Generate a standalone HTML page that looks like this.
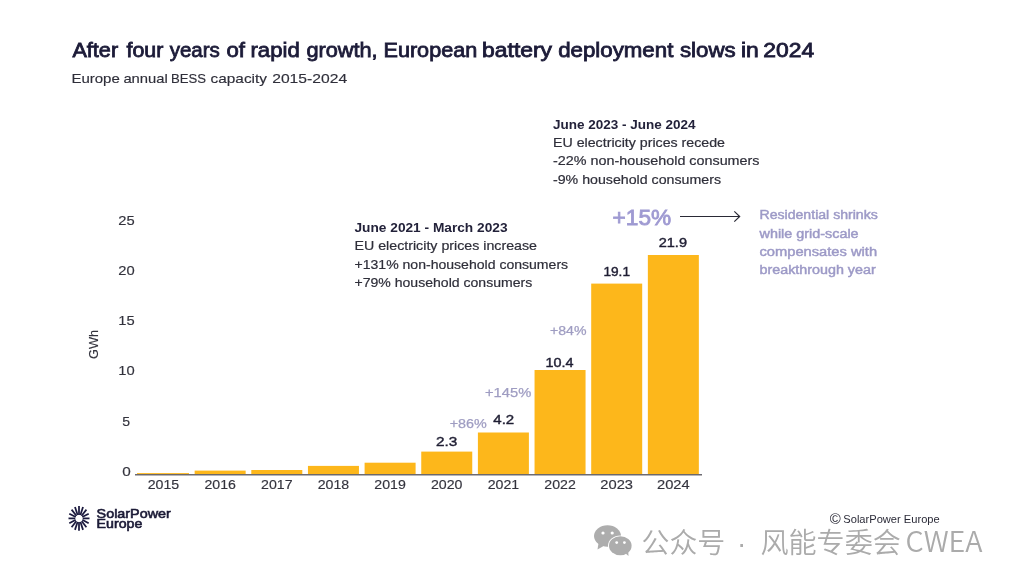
<!DOCTYPE html>
<html lang="en">
<head>
<meta charset="utf-8">
<title>European battery deployment slows in 2024</title>
<style>
  html, body { margin: 0; padding: 0; background: #ffffff; }
  body { width: 1015px; height: 583px; overflow: hidden; }
  svg { display: block; will-change: transform; }
  text { font-family: "Liberation Sans", "Noto Sans CJK SC", sans-serif; }
  .t  { fill: #1c1b38; stroke: #1c1b38; stroke-width: 0.8px; }
  .st { fill: #2f2f3a; stroke: #2f2f3a; stroke-width: 0.15px; }
  .ah { fill: #23223a; font-weight: 700; }
  .ab { fill: #2f2f3a; stroke: #2f2f3a; stroke-width: 0.2px; }
  .ax { fill: #33333d; stroke: #33333d; stroke-width: 0.15px; }
  .vl { fill: #1f1e33; stroke: #1f1e33; stroke-width: 0.4px; }
  .gr { fill: #9f9dc2; stroke: #9f9dc2; stroke-width: 0.25px; }
  .lv { fill: #9d9ac7; font-weight: 700; }
  .lvm { fill: #9d9ac7; stroke: #9d9ac7; stroke-width: 0.45px; }
  .bar { fill: #fdb71b; }
</style>
</head>
<body>
<svg width="1015" height="583" viewBox="0 0 1015 583">
  <rect width="1015" height="583" fill="#ffffff"/>

  <!-- Title -->
  <text class="t" y="57" font-size="20"><tspan x="72.4" textLength="45.71" lengthAdjust="spacingAndGlyphs">After</tspan> <tspan x="126.5" textLength="36.83" lengthAdjust="spacingAndGlyphs">four</tspan> <tspan x="169.7" textLength="50.13" lengthAdjust="spacingAndGlyphs">years</tspan> <tspan x="226.4" textLength="18.48" lengthAdjust="spacingAndGlyphs">of</tspan> <tspan x="250.5" textLength="49.24" lengthAdjust="spacingAndGlyphs">rapid</tspan> <tspan x="306.4" textLength="71.25" lengthAdjust="spacingAndGlyphs">growth,</tspan> <tspan x="383.5" textLength="93.69" lengthAdjust="spacingAndGlyphs">European</tspan> <tspan x="482.1" textLength="69.98" lengthAdjust="spacingAndGlyphs">battery</tspan> <tspan x="558.2" textLength="115.14" lengthAdjust="spacingAndGlyphs">deployment</tspan> <tspan x="680.0" textLength="55.62" lengthAdjust="spacingAndGlyphs">slows</tspan> <tspan x="741.0" textLength="17.84" lengthAdjust="spacingAndGlyphs">in</tspan> <tspan x="763.3" textLength="50.83" lengthAdjust="spacingAndGlyphs">2024</tspan></text>
  <text class="st" y="83" font-size="13.3"><tspan x="71.4" textLength="48.42" lengthAdjust="spacingAndGlyphs">Europe</tspan> <tspan x="123.4" textLength="44.45" lengthAdjust="spacingAndGlyphs">annual</tspan> <tspan x="170.9" textLength="35.07" lengthAdjust="spacingAndGlyphs">BESS</tspan> <tspan x="210.6" textLength="56.35" lengthAdjust="spacingAndGlyphs">capacity</tspan> <tspan x="272.2" textLength="74.92" lengthAdjust="spacingAndGlyphs">2015-2024</tspan></text>

  <!-- Annotation 2023-2024 -->
  <text class="ah" x="553" y="128.5" font-size="12.2" textLength="142.5" lengthAdjust="spacingAndGlyphs">June 2023 - June 2024</text>
  <text class="ab" x="553" y="147" font-size="12.7" textLength="172" lengthAdjust="spacingAndGlyphs">EU electricity prices recede</text>
  <text class="ab" x="553" y="165.3" font-size="12.7" textLength="206.5" lengthAdjust="spacingAndGlyphs">-22% non-household consumers</text>
  <text class="ab" x="553" y="183.5" font-size="12.7" textLength="168" lengthAdjust="spacingAndGlyphs">-9% household consumers</text>

  <!-- Annotation 2021-2023 -->
  <text class="ah" x="354.5" y="232" font-size="12.2" textLength="153" lengthAdjust="spacingAndGlyphs">June 2021 - March 2023</text>
  <text class="ab" x="354.5" y="250.4" font-size="12.7" textLength="182.5" lengthAdjust="spacingAndGlyphs">EU electricity prices increase</text>
  <text class="ab" x="354.5" y="268.8" font-size="12.7" textLength="213.6" lengthAdjust="spacingAndGlyphs">+131% non-household consumers</text>
  <text class="ab" x="354.5" y="287" font-size="12.7" textLength="177.7" lengthAdjust="spacingAndGlyphs">+79% household consumers</text>

  <!-- +15% and arrow -->
  <text class="lvm" x="612.6" y="225.2" font-size="21.8" style="stroke-width:0.8px;fill:#9f9ad2;stroke:#9f9ad2" textLength="58.6" lengthAdjust="spacingAndGlyphs">+15%</text>
  <line x1="680" y1="216.5" x2="739.6" y2="216.5" stroke="#2a2a36" stroke-width="1.15"/>
  <polyline points="734.3,211.4 739.7,216.5 734.3,221.6" fill="none" stroke="#2a2a36" stroke-width="1.15"/>

  <!-- Residential text -->
  <text class="lvm" x="759.5" y="219.2" font-size="12.5" textLength="118.3" lengthAdjust="spacingAndGlyphs">Residential shrinks</text>
  <text class="lvm" x="759.5" y="237.5" font-size="12.5" textLength="99.1" lengthAdjust="spacingAndGlyphs">while grid-scale</text>
  <text class="lvm" x="759.5" y="255.8" font-size="12.5" textLength="117.6" lengthAdjust="spacingAndGlyphs">compensates with</text>
  <text class="lvm" x="759.5" y="274" font-size="12.5" textLength="116.2" lengthAdjust="spacingAndGlyphs">breakthrough year</text>

  <!-- Y axis -->
  <g class="ax" font-size="12.3" text-anchor="middle">
    <text x="126.4" y="225.2" textLength="16.4" lengthAdjust="spacingAndGlyphs">25</text>
    <text x="126.4" y="275.2" textLength="16.4" lengthAdjust="spacingAndGlyphs">20</text>
    <text x="126.4" y="325.3" textLength="16.4" lengthAdjust="spacingAndGlyphs">15</text>
    <text x="126.4" y="375.4" textLength="16.4" lengthAdjust="spacingAndGlyphs">10</text>
    <text x="126.2" y="425.9" textLength="7.8" lengthAdjust="spacingAndGlyphs">5</text>
    <text x="126.5" y="475.7" textLength="8.5" lengthAdjust="spacingAndGlyphs">0</text>
  </g>
  <text class="ax" transform="translate(98,344.5) rotate(-90)" font-size="13.4" text-anchor="middle" textLength="29" lengthAdjust="spacingAndGlyphs">GWh</text>

  <!-- Bars: left = 138 + 56.65*i, width 51, baseline 474 -->
  <rect class="bar" x="137"    y="473.1" width="52" height="1.2"/>
  <rect class="bar" x="194.65" y="470.6" width="51" height="3.7"/>
  <rect class="bar" x="251.3"  y="470" width="51" height="4.3"/>
  <rect class="bar" x="307.95" y="465.9" width="51" height="8.4"/>
  <rect class="bar" x="364.6"  y="462.7" width="51" height="11.6"/>
  <rect class="bar" x="421.25" y="451.6" width="51" height="22.7"/>
  <rect class="bar" x="477.9"  y="432.5" width="51" height="41.8"/>
  <rect class="bar" x="534.55" y="370"   width="51" height="104.3"/>
  <rect class="bar" x="591.2"  y="283.6" width="51" height="190.7"/>
  <rect class="bar" x="647.85" y="255"   width="51" height="219.3"/>
  <rect x="135" y="474.1" width="567" height="1.35" fill="#5d5b63"/>

  <!-- Year labels -->
  <g class="ax" font-size="12.3" text-anchor="middle">
    <text x="163.5" y="489.2" textLength="31.5" lengthAdjust="spacingAndGlyphs">2015</text>
    <text x="220.15" y="489.2" textLength="31.5" lengthAdjust="spacingAndGlyphs">2016</text>
    <text x="276.8" y="489.2" textLength="31.5" lengthAdjust="spacingAndGlyphs">2017</text>
    <text x="333.45" y="489.2" textLength="31.5" lengthAdjust="spacingAndGlyphs">2018</text>
    <text x="390.1" y="489.2" textLength="31.5" lengthAdjust="spacingAndGlyphs">2019</text>
    <text x="446.75" y="489.2" textLength="31.5" lengthAdjust="spacingAndGlyphs">2020</text>
    <text x="503.4" y="489.2" textLength="31.5" lengthAdjust="spacingAndGlyphs">2021</text>
    <text x="560.05" y="489.2" textLength="31.5" lengthAdjust="spacingAndGlyphs">2022</text>
    <text x="616.7" y="489.2" textLength="32.7" lengthAdjust="spacingAndGlyphs">2023</text>
    <text x="673.35" y="489.2" textLength="32.7" lengthAdjust="spacingAndGlyphs">2024</text>
  </g>

  <!-- Value labels -->
  <g class="vl" font-size="12.5">
    <text x="436" y="445.7" textLength="21.3" lengthAdjust="spacingAndGlyphs">2.3</text>
    <text x="493.3" y="424.1" textLength="20.9" lengthAdjust="spacingAndGlyphs">4.2</text>
    <text x="545.5" y="367.2" textLength="28" lengthAdjust="spacingAndGlyphs">10.4</text>
    <text x="603.4" y="275.5" textLength="26.6" lengthAdjust="spacingAndGlyphs">19.1</text>
    <text x="658.7" y="247" textLength="28.3" lengthAdjust="spacingAndGlyphs">21.9</text>
  </g>

  <!-- Growth labels -->
  <g class="gr" font-size="12.5">
    <text x="449.7" y="427.6" textLength="37.1" lengthAdjust="spacingAndGlyphs">+86%</text>
    <text x="485" y="397" textLength="46.3" lengthAdjust="spacingAndGlyphs">+145%</text>
    <text x="550" y="335.2" textLength="36.5" lengthAdjust="spacingAndGlyphs">+84%</text>
  </g>

  <!-- Logo -->
  <g id="sun" transform="translate(79,518.4)" stroke="#1b1a3e" stroke-width="1.75" stroke-linecap="butt"><line x1="0.00" y1="-3.40" x2="0.00" y2="-12.40"/><line x1="1.30" y1="-3.14" x2="4.02" y2="-11.46"/><line x1="2.40" y1="-2.40" x2="7.42" y2="-8.77"/><line x1="3.14" y1="-1.30" x2="9.70" y2="-4.75"/><line x1="3.40" y1="-0.00" x2="10.50" y2="-0.00"/><line x1="3.14" y1="1.30" x2="9.70" y2="4.75"/><line x1="2.40" y1="2.40" x2="7.42" y2="8.77"/><line x1="1.30" y1="3.14" x2="4.02" y2="11.46"/><line x1="0.00" y1="3.40" x2="0.00" y2="12.40"/><line x1="-1.30" y1="3.14" x2="-4.02" y2="11.46"/><line x1="-2.40" y1="2.40" x2="-7.42" y2="8.77"/><line x1="-3.14" y1="1.30" x2="-9.70" y2="4.75"/><line x1="-3.40" y1="0.00" x2="-10.50" y2="0.00"/><line x1="-3.14" y1="-1.30" x2="-9.70" y2="-4.75"/><line x1="-2.40" y1="-2.40" x2="-7.42" y2="-8.77"/><line x1="-1.30" y1="-3.14" x2="-4.02" y2="-11.46"/></g>
  <circle cx="79" cy="518.4" r="3.5" fill="#ffffff"/>
  <text x="96.6" y="517.9" font-size="13.2" fill="#1b1a36" stroke="#1b1a36" stroke-width="0.6" textLength="74.2" lengthAdjust="spacingAndGlyphs">SolarPower</text>
  <text x="96.6" y="528.2" font-size="12.6" fill="#1b1a36" stroke="#1b1a36" stroke-width="0.6" textLength="45.8" lengthAdjust="spacingAndGlyphs">Europe</text>

  <!-- Copyright -->
  <text x="829.8" y="524" font-size="14" fill="#2b2b38" textLength="11" lengthAdjust="spacingAndGlyphs">©</text><text x="843.3" y="522.8" font-size="11.2" fill="#2b2b38" textLength="96.4" lengthAdjust="spacingAndGlyphs">SolarPower Europe</text>

  <!-- Watermark -->
  <g fill="#adadad">
    <ellipse cx="607.5" cy="536" rx="13.5" ry="10.7"/>
    <path d="M598.5,543 L597.5,549.5 L604.5,545.5 Z"/>
    <circle cx="603" cy="533" r="1.6" fill="#ffffff"/>
    <circle cx="612.2" cy="533" r="1.6" fill="#ffffff"/>
    <ellipse cx="620.3" cy="545.8" rx="12.3" ry="10.4" fill="#ffffff"/>
    <ellipse cx="620.3" cy="545.8" rx="11.3" ry="9.5"/>
    <path d="M624,552 L628.5,556 L628,549 Z"/>
    <circle cx="616.7" cy="542.6" r="1.4" fill="#ffffff"/>
    <circle cx="624.4" cy="542.6" r="1.4" fill="#ffffff"/>
  </g>
  <g font-size="28" fill="#ababab" font-weight="350">
    <text x="641.5" y="553" textLength="83.8" lengthAdjust="spacingAndGlyphs">公众号</text>
    <text x="741.6" y="553" text-anchor="middle">·</text>
    <text x="760.4" y="553" textLength="140.5" lengthAdjust="spacingAndGlyphs">风能专委会</text>
    <text x="905.6" y="552.2" font-size="28.8" style="font-family:'Noto Sans CJK SC',sans-serif" textLength="77" lengthAdjust="spacingAndGlyphs">CWEA</text>
  </g>
</svg>
</body>
</html>
